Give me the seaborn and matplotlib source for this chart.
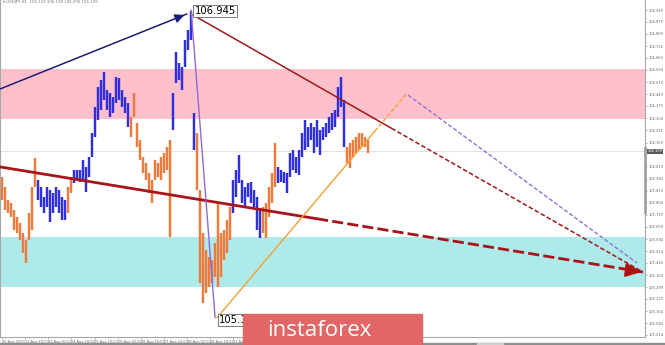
import numpy as np
import matplotlib
matplotlib.use("Agg")
import matplotlib.pyplot as plt
import seaborn as sns
from matplotlib.patches import Rectangle

# ---------------- data (USDJPY H1, 2-hour aggregated bars) ----------------
bar_high = [105.957, 105.897, 105.818, 105.798, 105.758, 105.719, 105.679, 105.619, 105.580, 105.738,
            105.897, 106.066, 105.937, 105.897, 105.838, 105.897, 105.877, 105.857, 105.897, 105.877,
            105.838, 105.818, 105.897, 105.957, 105.996, 105.996, 105.996, 106.056, 106.016, 106.076,
            106.215, 106.373, 106.492, 106.532, 106.582, 106.473, 106.453, 106.433, 106.552, 106.542,
            106.473, 106.433, 106.393, 106.314, 106.453, 106.274, 106.175, 106.076, 106.036, 105.977,
            105.937, 106.056, 106.036, 106.076, 106.096, 106.135, 106.175, 106.453, 106.701, 106.631,
            106.612, 106.770, 106.830, 106.945, 106.334, 106.215, 105.877, 105.619, 105.520, 105.480,
            105.461, 105.560, 105.798, 105.619, 105.639, 105.699, 105.778, 105.937, 105.996, 106.086,
            105.937, 105.897, 105.917, 105.927, 105.877, 105.838, 105.758, 105.778, 105.798, 105.897,
            105.977, 106.155, 106.016, 105.996, 105.986, 105.977, 106.096, 106.115, 106.076, 106.115,
            106.215, 106.294, 106.254, 106.274, 106.254, 106.294, 106.234, 106.254, 106.274, 106.314,
            106.334, 106.354, 106.492, 106.552, 106.413, 106.135, 106.155, 106.175, 106.195, 106.215,
            106.215, 106.195, 106.175]
bar_low = [105.818, 105.758, 105.738, 105.719, 105.639, 105.619, 105.580, 105.500, 105.441, 105.580,
           105.639, 105.897, 105.818, 105.778, 105.738, 105.778, 105.689, 105.738, 105.778, 105.738,
           105.699, 105.699, 105.738, 105.857, 105.917, 105.937, 105.927, 105.937, 105.867, 105.957,
           106.076, 106.195, 106.294, 106.354, 106.413, 106.354, 106.314, 106.334, 106.393, 106.413,
           106.373, 106.334, 106.254, 106.195, 106.314, 106.135, 106.056, 105.977, 105.937, 105.857,
           105.798, 105.937, 105.957, 105.937, 105.977, 105.996, 105.599, 106.234, 106.512, 106.532,
           106.473, 106.612, 106.711, 106.770, 106.115, 105.877, 105.322, 105.202, 105.262, 105.302,
           105.322, 105.361, 105.302, 105.361, 105.461, 105.500, 105.580, 105.738, 105.838, 105.917,
           105.798, 105.778, 105.838, 105.798, 105.778, 105.639, 105.589, 105.619, 105.589, 105.719,
           105.798, 105.897, 105.917, 105.927, 105.917, 105.857, 105.957, 105.996, 105.977, 105.967,
           106.076, 106.115, 106.135, 106.175, 106.096, 106.135, 106.086, 106.175, 106.195, 106.215,
           106.234, 106.254, 106.314, 106.373, 106.135, 106.036, 106.006, 106.076, 106.096, 106.115,
           106.135, 106.135, 106.096]
wave_starts = [0, 12, 22, 24, 43, 57, 65, 77, 87, 92, 115]   # first bar of each wave
wave_first_up = False                                        # waves alternate down/up

resist_zone = [106.300, 106.598]
support_zone = [105.300, 105.598]
current_price = 106.109

# wave-analysis lines: [bar, price] anchors
navy_line = [[-0.5, 106.479], [61.8, 106.926]]
red_thin_line = [[63.8, 106.920], [130.0, 106.245], [213.8, 105.389]]
red_thick_line = [[-0.5, 106.015], [105.2, 105.706], [213.8, 105.389]]
purple_line = [[63.2, 106.949], [71.2, 105.116]]
orange_line = [[71.8, 105.116], [124.5, 106.229], [135.2, 106.455]]
purple_dash_line = [[135.5, 106.443], [211.8, 105.443]]

peak_label = "106.945"
peak_pos = [64.3, 106.944]
low_label = "105.196"
low_pos = [72.5, 105.104]

header_text = "\u25BE USDJPY,H1  106.123 106.138 106.096 106.109"
time_labels = ["20 Aug 2020", "21 Aug 10:00", "24 Aug 02:00", "24 Aug 18:00", "25 Aug 10:00",
               "26 Aug 02:00", "26 Aug 18:00", "27 Aug 10:00", "28 Aug 02:00", "28 Aug 18:00",
               "31 Aug 10:00"]
price_ticks = [106.949, 106.879, 106.809, 106.734, 106.664, 106.594, 106.519, 106.449, 106.379,
               106.304, 106.234, 106.159, 106.019, 105.944, 105.874, 105.804, 105.729, 105.659,
               105.584, 105.514, 105.444, 105.369, 105.299, 105.229, 105.154, 105.084, 105.014]

# ---------------- style ----------------
sns.set_theme(style="white")
plt.rcParams['font.family'] = ['DejaVu Sans']

BLUE = "#2f2fe0"
ORANGE = "#f07a3c"

fig = plt.figure(figsize=(6.65, 3.45), dpi=100)
ax = fig.add_axes([0.0, 8 / 345, 645 / 665, 337 / 345])
ax.set_xlim(-0.5, 214.5)
ax.set_ylim(105.002, 107.009)

# zones
ax.axhspan(resist_zone[0], resist_zone[1], color="#ffc0cb", lw=0, zorder=0)
ax.axhspan(support_zone[0], support_zone[1], color="#aeeaea", lw=0, zorder=0)
ax.axhline(current_price, color="#dddddd", lw=0.6, zorder=0.5)

# bars
n = len(bar_high)
xs = np.arange(n)
cols = []
up = wave_first_up
bounds = wave_starts + [n]
for k in range(len(wave_starts)):
    cols += [BLUE if up else ORANGE] * (bounds[k + 1] - bounds[k])
    up = not up
ax.vlines(xs, bar_low, bar_high, colors=cols, linewidth=1.75, zorder=2)

def seg(line, i, j):
    a = np.array(line)
    return a[i:j + 1, 0], a[i:j + 1, 1]

# navy arrow
x, y = seg(navy_line, 0, 1)
ax.plot(x, y, color="#1c1c7a", lw=1.1, zorder=3)
ax.annotate("", xy=(x[1], y[1]), xytext=(x[1] - 2.5, y[1] - 0.018),
            arrowprops=dict(arrowstyle="-|>,head_length=0.45,head_width=0.22", color="#1c1c7a", lw=1.1),
            zorder=3)

# thin red line
x, y = seg(red_thin_line, 0, 1)
ax.plot(x, y, color="#a01818", lw=1.1, zorder=3)
x, y = seg(red_thin_line, 1, 2)
ax.plot(x, y, color="#a01818", lw=1.1, ls=(0, (3, 1.5)), zorder=3)

# thick red line
x, y = seg(red_thick_line, 0, 1)
ax.plot(x, y, color="#a8141a", lw=2.0, zorder=3)
x, y = seg(red_thick_line, 1, 2)
ax.plot(x, y, color="#a8141a", lw=2.0, ls=(0, (4, 1.5)), zorder=3)
ax.annotate("", xy=(x[1] + 0.5, y[1] - 0.002), xytext=(x[1] - 3, y[1] + 0.006),
            arrowprops=dict(arrowstyle="-|>,head_length=0.8,head_width=0.35", color="#b01010", lw=1.5),
            zorder=4)

# purple solid
x, y = seg(purple_line, 0, 1)
ax.plot(x, y, color="#8c6ad8", lw=1.0, zorder=3)

# orange line
x, y = seg(orange_line, 0, 1)
ax.plot(x, y, color="#f5a030", lw=1.0, zorder=3)
x, y = seg(orange_line, 1, 2)
ax.plot(x, y, color="#f5a030", lw=1.0, ls=(0, (3, 1.5)), zorder=3)

# purple dashed
x, y = seg(purple_dash_line, 0, 1)
ax.plot(x, y, color="#9370db", lw=1.0, ls=(0, (3, 1.5)), zorder=3)

# labels
box = dict(boxstyle="square,pad=0.12", fc="white", ec="#666666", lw=0.6)
ax.text(peak_pos[0], peak_pos[1], peak_label, fontsize=7.2, color="black", ha="left", va="center",
        bbox=box, zorder=5)
ax.text(low_pos[0], low_pos[1], low_label, fontsize=7.2, color="black", ha="left", va="center",
        bbox=box, zorder=5)
ax.text(0.5, 106.995, header_text, fontsize=2.8, color="#777777", ha="left", va="center", zorder=5)

# axes styling
ax.spines["top"].set_visible(False)
for s in ["left", "right", "bottom"]:
    ax.spines[s].set_color("#a8a8a8")
    ax.spines[s].set_linewidth(0.8)
ax.yaxis.tick_right()
ax.set_yticks(price_ticks)
ax.set_yticklabels([f"{v:.3f}" for v in price_ticks])
ax.tick_params(axis="y", which="both", right=True, length=1.5, width=0.5, color="#999999",
               labelsize=2.6, labelcolor="#666666", pad=1.0)
ax.set_xticks(np.arange(len(time_labels)) * 7.7 + 0.2)
ax.set_xticklabels(time_labels)
for t in ax.get_xticklabels():
    t.set_horizontalalignment("left")
ax.tick_params(axis="x", bottom=True, length=1.5, width=0.5, color="#999999",
               labelsize=2.5, labelcolor="#666666", pad=0.8)
ax.grid(False)

# current price box on axis
ax.text(1.004, current_price, f"{current_price:.3f}", transform=ax.get_yaxis_transform(),
        fontsize=2.6, color="white", ha="left", va="center",
        bbox=dict(boxstyle="square,pad=0.12", fc="#5a5a5a", ec="none"), zorder=6, clip_on=False)
ax.plot([214.5, 214.5], [106.134, 105.741], color="#9a9a9a", lw=1.8, clip_on=False, zorder=5)

# bottom gray strip
fig.patches.append(Rectangle((0, 0), 1, 2.5 / 345, transform=fig.transFigure, color="#8e8e8e", zorder=1))
fig.patches.append(Rectangle((477 / 665, 0), 26 / 665, 2.5 / 345, transform=fig.transFigure,
                             color="#d0d0d0", zorder=1.5))

# instaforex banner
fig.patches.append(Rectangle((243 / 665, 0), 179 / 665, 31 / 345, transform=fig.transFigure,
                             color="#e26666", zorder=10))
fig.text(319 / 665, 8.5 / 345, "instaforex", color="white", fontsize=16, ha="center",
         va="baseline", family=["Open Sans", "DejaVu Sans"], zorder=11)

fig.savefig("out.png", dpi=100)
